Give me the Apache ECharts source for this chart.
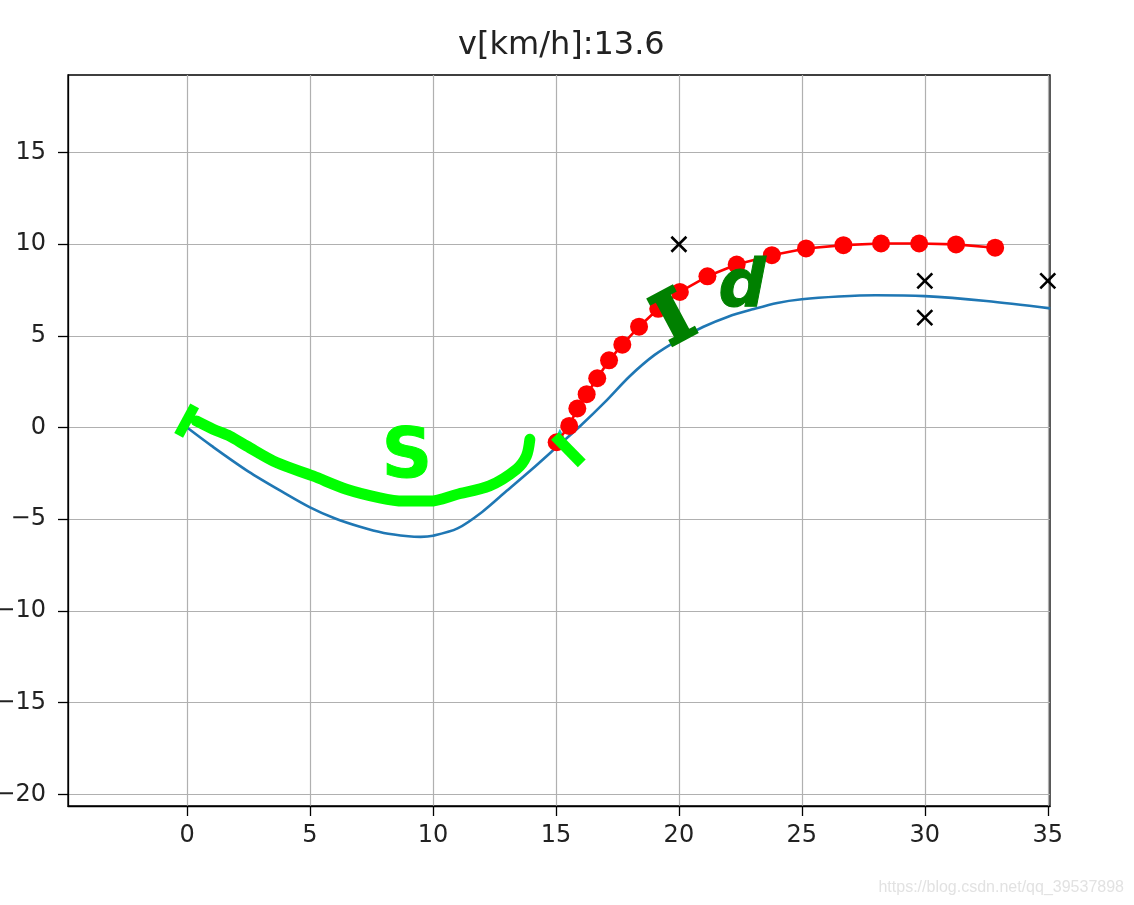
<!DOCTYPE html>
<html><head><meta charset="utf-8">
<script src="https://cdn.jsdelivr.net/npm/echarts@6/dist/echarts.min.js"></script>
<style>html,body{margin:0;padding:0;background:#fff}#c{width:1134px;height:905px}</style>
</head><body><div id="c"></div>
<script>
// ---- data ----
const titleText = 'v[km/h]:13.6';
const xTicks = [0, 5, 10, 15, 20, 25, 30, 35];
const yTicks = [-20, -15, -10, -5, 0, 5, 10, 15];
const xRange = [-4.84, 35.09];
const yRange = [-20.64, 19.23];

// reference course (blue)
const courseX = [0, 1, 2.5, 4, 5, 6, 7, 8, 9, 9.5, 10, 11, 12, 13, 14, 15, 16, 17, 18, 19, 20, 21, 22, 23, 24, 25, 26.5, 28, 30, 32.5, 35.1];
const courseY = [0, -1.0, -2.4, -3.6, -4.35, -4.95, -5.4, -5.75, -5.93, -5.96, -5.9, -5.5, -4.6, -3.45, -2.3, -1.1, 0.1, 1.4, 2.8, 3.95, 4.8, 5.5, 6.05, 6.45, 6.8, 7.0, 7.15, 7.22, 7.17, 6.9, 6.5];

// predicted trajectory (red dots)
const predX = [15.03, 15.54, 15.87, 16.25, 16.68, 17.16, 17.70, 18.38, 19.16, 20.04, 21.16, 22.35, 23.78, 25.17, 26.69, 28.22, 29.77, 31.27, 32.86];
const predY = [-0.8, 0.09, 1.04, 1.82, 2.69, 3.67, 4.52, 5.50, 6.48, 7.40, 8.25, 8.89, 9.40, 9.77, 9.95, 10.04, 10.04, 9.99, 9.81];

// target points (black x)
const targetX = [20, 30, 30, 35];
const targetY = [10, 8, 6, 8];

// vehicle marker (cyan)
const vehicleX = [15.16];
const vehicleY = [-0.36];

// hand-drawn annotations (data coordinates)
const startBarX = [-0.34, 0.31];
const startBarY = [-0.42, 1.18];
const arcX = [0.38, 1.06, 1.74, 2.42, 3.64, 5.12, 6.48, 7.84, 8.79, 9.88, 10.96, 12.3, 13.4, 13.8, 13.94];
const arcY = [0.36, -0.09, -0.47, -1.0, -1.91, -2.64, -3.36, -3.83, -4.01, -4.01, -3.65, -3.18, -2.27, -1.55, -0.64];
const endBarX = [14.96, 16.05];
const endBarY = [-0.46, -1.95];
const labelS = { text: 'S', x: 8.94, y: -1.73 };
const labelI = { text: 'I', x: 19.88, y: 5.75 };
const labelD = { text: 'd', x: 22.57, y: 7.54 };

const watermark = 'https://blog.csdn.net/qq_39537898';

// ---- helpers ----
const zip = (xs, ys) => xs.map((x, i) => [x, ys[i]]);
const fmt = v => String(v).replace('-', '\u2212');

const FONT = 'DejaVu Sans';
const GRID = '#b0b0b0';

function axisCommon(ticks, range, margin) {
  return {
    type: 'value',
    min: range[0], max: range[1],
    splitNumber: 8,
    axisLine: { show: true, onZero: false, lineStyle: { color: '#000', width: 1.3 } },
    axisTick: { show: true, customValues: ticks, length: 10, lineStyle: { color: '#000', width: 1.3 } },
    axisLabel: { show: true, customValues: ticks, formatter: fmt, fontFamily: FONT, fontSize: 24, color: '#222', margin: margin },
    splitLine: { show: true, lineStyle: { color: GRID, width: 1.2 } }
  };
}

function textSeries(lab, color, fontFamily, size, opts) {
  return {
    type: 'scatter', data: [[lab.x, lab.y]], symbolSize: 1, silent: true, z: 10,
    itemStyle: { color: 'rgba(0,0,0,0)', opacity: 1 },
    label: Object.assign({
      show: true, position: 'inside', formatter: lab.text, color: color, opacity: 1,
      fontFamily: fontFamily, fontSize: size, fontWeight: 'bold'
    }, opts || {})
  };
}

const chart = echarts.init(document.getElementById('c'), null, { renderer: 'canvas' });
chart.setOption({
  animation: false,
  backgroundColor: '#fff',
  title: {
    text: titleText, left: 453, top: 25,
    textStyle: { fontFamily: FONT, fontSize: 32, fontWeight: 'normal', color: '#222' }
  },
  grid: { left: 68, right: 84, top: 75, bottom: 99, containLabel: false, outerBoundsMode: 'none',
          show: true, borderColor: '#000', borderWidth: 1.3, backgroundColor: 'transparent' },
  xAxis: Object.assign(axisCommon(xTicks, xRange, 18), { position: 'bottom' }),
  yAxis: Object.assign(axisCommon(yTicks, yRange, 22), { position: 'left' }),
  graphic: [{
    type: 'text', right: 10, bottom: 9,
    style: { text: watermark, fill: '#e2e2e2', font: '16px "Liberation Sans", Arial, sans-serif' }
  }],
  series: [
    { type: 'line', data: zip(courseX, courseY), smooth: 0.3, showSymbol: false, silent: true,
      lineStyle: { color: '#1f77b4', width: 2.6 } },
    { type: 'line', data: zip(predX, predY), symbol: 'circle', symbolSize: 18, showSymbol: true, silent: true,
      lineStyle: { color: '#ff0000', width: 2.6 }, itemStyle: { color: '#ff0000', opacity: 1 } },
    { type: 'scatter', data: zip(targetX, targetY), symbol: 'path://M0,0L10,10M10,0L0,10', symbolSize: 15, silent: true,
      itemStyle: { color: 'none', borderColor: '#000', borderWidth: 2.6, opacity: 1 } },
    { type: 'scatter', data: zip(vehicleX, vehicleY), symbol: 'triangle', symbolSize: 11, silent: true,
      itemStyle: { color: '#17becf', opacity: 1 } },
    { type: 'line', data: zip(startBarX, startBarY), showSymbol: false, silent: true, z: 5,
      lineStyle: { color: '#00ff00', width: 10, cap: 'butt' } },
    { type: 'line', data: zip(arcX, arcY), showSymbol: false, smooth: 0.3, silent: true, z: 5,
      lineStyle: { color: '#00ff00', width: 11, cap: 'round', join: 'round' } },
    { type: 'line', data: zip(endBarX, endBarY), showSymbol: false, silent: true, z: 5,
      lineStyle: { color: '#00ff00', width: 11, cap: 'butt' } },
    textSeries(labelS, '#00ff00', FONT, 70, { textBorderColor: '#00ff00', textBorderWidth: 1 }),
    textSeries(labelI, '#008000', 'DejaVu Serif', 70, { rotate: 28, textBorderColor: '#008000', textBorderWidth: 4 }),
    textSeries(labelD, '#008000', FONT, 66, { fontStyle: 'italic', textBorderColor: '#008000', textBorderWidth: 1 })
  ]
});
</script></body></html>
